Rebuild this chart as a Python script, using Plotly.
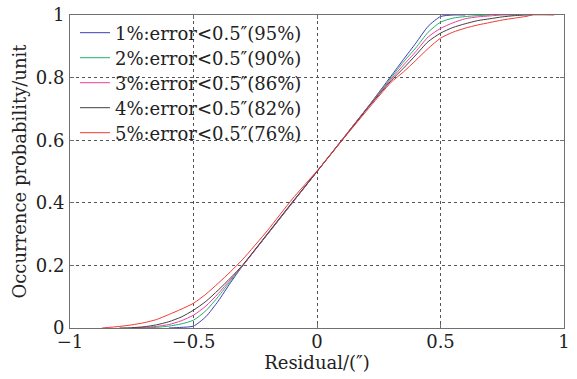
import plotly.graph_objects as go

# Cumulative occurrence probability of the residual for each error level
x_1pct = [-0.60, -0.55, -0.50, -0.45, -0.40, -0.35, -0.30, -0.20, -0.10, 0.00, 0.10, 0.20, 0.30, 0.35, 0.40, 0.45, 0.50, 0.55, 0.60]
y_1pct = [0.000, 0.002, 0.006, 0.036, 0.086, 0.145, 0.200, 0.300, 0.400, 0.500, 0.600, 0.700, 0.805, 0.858, 0.910, 0.964, 0.995, 1.000, 1.000]

x_2pct = [-0.75, -0.70, -0.65, -0.60, -0.55, -0.50, -0.45, -0.40, -0.35, -0.30, -0.20, -0.10, 0.00, 0.10, 0.20, 0.30, 0.35, 0.40, 0.45, 0.50, 0.55, 0.60, 0.65, 0.70]
y_2pct = [0.000, 0.001, 0.002, 0.006, 0.013, 0.025, 0.055, 0.100, 0.150, 0.200, 0.300, 0.400, 0.500, 0.600, 0.700, 0.800, 0.850, 0.895, 0.945, 0.977, 0.990, 0.995, 0.998, 1.000]

x_3pct = [-0.75, -0.70, -0.65, -0.60, -0.55, -0.50, -0.45, -0.40, -0.35, -0.30, -0.20, -0.10, 0.00, 0.10, 0.20, 0.30, 0.35, 0.40, 0.45, 0.50, 0.55, 0.60, 0.65, 0.70, 0.75, 0.80]
y_3pct = [0.000, 0.002, 0.005, 0.011, 0.023, 0.041, 0.070, 0.110, 0.155, 0.200, 0.300, 0.400, 0.500, 0.600, 0.700, 0.795, 0.840, 0.883, 0.930, 0.957, 0.975, 0.988, 0.994, 0.997, 1.000, 1.000]

x_4pct = [-0.80, -0.75, -0.70, -0.65, -0.60, -0.55, -0.50, -0.45, -0.40, -0.35, -0.30, -0.20, -0.10, 0.00, 0.10, 0.20, 0.30, 0.35, 0.40, 0.45, 0.50, 0.55, 0.60, 0.65, 0.70, 0.75, 0.80, 0.85, 0.87]
y_4pct = [0.000, 0.001, 0.004, 0.010, 0.020, 0.035, 0.057, 0.085, 0.121, 0.160, 0.202, 0.302, 0.402, 0.500, 0.598, 0.698, 0.790, 0.830, 0.872, 0.915, 0.942, 0.960, 0.972, 0.982, 0.988, 0.994, 0.998, 1.000, 1.000]

x_5pct = [-0.87, -0.80, -0.75, -0.70, -0.65, -0.60, -0.55, -0.50, -0.45, -0.40, -0.35, -0.30, -0.20, -0.10, 0.00, 0.10, 0.20, 0.30, 0.35, 0.40, 0.45, 0.50, 0.55, 0.60, 0.65, 0.70, 0.75, 0.80, 0.85, 0.87, 0.96]
y_5pct = [0.000, 0.005, 0.010, 0.017, 0.027, 0.043, 0.060, 0.079, 0.108, 0.143, 0.180, 0.220, 0.312, 0.412, 0.502, 0.598, 0.693, 0.785, 0.818, 0.855, 0.893, 0.926, 0.945, 0.958, 0.968, 0.976, 0.984, 0.990, 0.996, 1.000, 1.000]

series_names = [
    "1%:error<0.5\u2033(95%)",
    "2%:error<0.5\u2033(90%)",
    "3%:error<0.5\u2033(86%)",
    "4%:error<0.5\u2033(82%)",
    "5%:error<0.5\u2033(76%)",
]
series_x = [x_1pct, x_2pct, x_3pct, x_4pct, x_5pct]
series_y = [y_1pct, y_2pct, y_3pct, y_4pct, y_5pct]
series_colors = ["#3a3ab8", "#1fb36a", "#f03c9e", "#404040", "#f03a32"]

x_ticks = [-1, -0.5, 0, 0.5, 1]
x_tick_text = ["\u22121", "\u22120.5", "0", "0.5", "1"]
y_ticks = [0, 0.2, 0.4, 0.6, 0.8, 1]
y_tick_text = ["0", "0.2", "0.4", "0.6", "0.8", "1"]

FONT = "DejaVu Serif"
INK = "#222222"

# one compact legend per series so the rows sit tightly stacked
legend_ids = ["legend", "legend2", "legend3", "legend4", "legend5"]
legend_rows = [0.9425, 0.8626, 0.7827, 0.7029, 0.6230]

fig = go.Figure()
for name, xs, ys, col, lid in zip(series_names, series_x, series_y, series_colors, legend_ids):
    fig.add_trace(go.Scatter(x=xs, y=ys, mode="lines", name=name, legend=lid,
                             line=dict(color=col, width=1, shape="spline", smoothing=0.6)))

axis_common = dict(
    showline=True, linecolor="#707070", linewidth=1, mirror="ticks",
    ticks="inside", ticklen=4, tickcolor="#707070",
    showgrid=True, gridcolor="#555555", gridwidth=1, griddash="dot",
    zeroline=False, automargin=False,
    tickfont=dict(family=FONT, size=18, color=INK),
)

fig.update_xaxes(range=[-1, 1], tickvals=x_ticks, ticktext=x_tick_text, ticklabelstandoff=-3,
                 title=dict(text="Residual/(\u2033)", font=dict(family=FONT, size=18, color=INK), standoff=0),
                 **axis_common)
fig.update_yaxes(range=[0, 1], tickvals=y_ticks, ticktext=y_tick_text, ticklabelstandoff=1,
                 title=dict(text="Occurrence probability/unit", font=dict(family=FONT, size=18, color=INK), standoff=4),
                 **axis_common)

legend_style = dict(x=0.0101, xanchor="left", yanchor="middle",
                    bgcolor="rgba(255,255,255,0)", borderwidth=0,
                    font=dict(family=FONT, size=18, color=INK))
layout_legends = {lid: dict(y=yrow, **legend_style) for lid, yrow in zip(legend_ids, legend_rows)}

fig.update_layout(
    width=577, height=379,
    margin=dict(l=70, r=13, t=15, b=51, autoexpand=False),
    paper_bgcolor="white", plot_bgcolor="white",
    font=dict(family=FONT, size=18, color=INK),
    showlegend=True,
    **layout_legends,
)

fig.write_html("out.html")
